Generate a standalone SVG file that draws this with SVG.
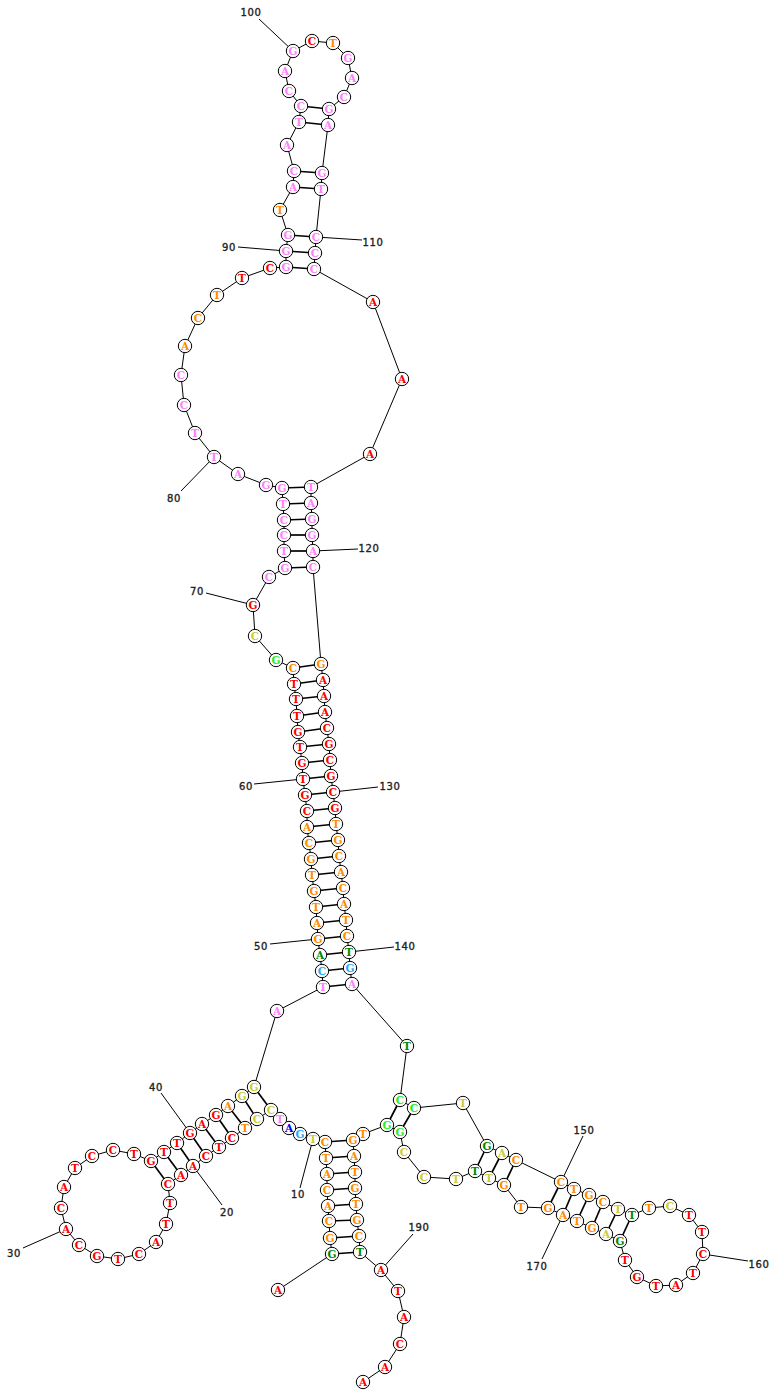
<svg xmlns="http://www.w3.org/2000/svg" width="770" height="1391" viewBox="0 0 770 1391">
<style>
rect.bg{fill:#fff}
#connectors line{stroke:#000;stroke-width:1}
#connectors line.bp{stroke-width:1.7}
circle{fill:#fff;stroke:#000;stroke-width:1;r:6.7px}
.n text{font-family:"DejaVu Serif",serif;font-weight:bold;font-size:10.5px;text-anchor:middle}
.lab{font-family:"DejaVu Sans",sans-serif;font-size:10px;letter-spacing:.7px;text-anchor:middle;fill:#222;stroke:#222;stroke-width:.35}
.r text{fill:#f00}.o text{fill:#ff8c00}.y text{fill:#cccc33}.l text{fill:#22ee22}.d text{fill:#008800}.s text{fill:#22aaff}.b text{fill:#0000ee}.p text{fill:#ff80ff}
</style>
<rect class="bg" width="770" height="1391"/>
<g id="connectors">
<line x1="278" y1="1290" x2="332" y2="1254"/><line x1="332" y1="1254" x2="330" y2="1238"/><line x1="330" y1="1238" x2="329" y2="1221"/><line x1="329" y1="1221" x2="328" y2="1206"/><line x1="328" y1="1206" x2="327" y2="1190"/><line x1="327" y1="1190" x2="327" y2="1174"/><line x1="327" y1="1174" x2="326" y2="1158"/><line x1="326" y1="1158" x2="325" y2="1142"/><line x1="325" y1="1142" x2="313" y2="1139"/><line x1="313" y1="1139" x2="300" y2="1134"/><line x1="300" y1="1134" x2="289" y2="1128"/><line x1="289" y1="1128" x2="280" y2="1119"/><line x1="280" y1="1119" x2="271" y2="1110"/><line x1="271" y1="1110" x2="257" y2="1119"/><line x1="257" y1="1119" x2="245" y2="1128"/><line x1="245" y1="1128" x2="232" y2="1138"/><line x1="232" y1="1138" x2="219" y2="1147"/><line x1="219" y1="1147" x2="206" y2="1156"/><line x1="206" y1="1156" x2="193" y2="1166"/><line x1="193" y1="1166" x2="181" y2="1175"/><line x1="181" y1="1175" x2="168" y2="1184"/><line x1="168" y1="1184" x2="170" y2="1203"/><line x1="170" y1="1203" x2="166" y2="1224"/><line x1="166" y1="1224" x2="156" y2="1242"/><line x1="156" y1="1242" x2="139" y2="1254"/><line x1="139" y1="1254" x2="118" y2="1259"/><line x1="118" y1="1259" x2="97" y2="1256"/><line x1="97" y1="1256" x2="79" y2="1245"/><line x1="79" y1="1245" x2="66" y2="1229"/><line x1="66" y1="1229" x2="61" y2="1208"/><line x1="61" y1="1208" x2="64" y2="1187"/><line x1="64" y1="1187" x2="75" y2="1168"/><line x1="75" y1="1168" x2="92" y2="1156"/><line x1="92" y1="1156" x2="113" y2="1150"/><line x1="113" y1="1150" x2="134" y2="1154"/><line x1="134" y1="1154" x2="151" y2="1161"/><line x1="151" y1="1161" x2="164" y2="1152"/><line x1="164" y1="1152" x2="177" y2="1143"/><line x1="177" y1="1143" x2="190" y2="1133"/><line x1="190" y1="1133" x2="202" y2="1124"/><line x1="202" y1="1124" x2="216" y2="1115"/><line x1="216" y1="1115" x2="228" y2="1106"/><line x1="228" y1="1106" x2="242" y2="1096"/><line x1="242" y1="1096" x2="254" y2="1087"/><line x1="254" y1="1087" x2="277" y2="1011"/><line x1="277" y1="1011" x2="323" y2="987"/><line x1="323" y1="987" x2="322" y2="971"/><line x1="322" y1="971" x2="320" y2="955"/><line x1="320" y1="955" x2="318" y2="939"/><line x1="318" y1="939" x2="317" y2="923"/><line x1="317" y1="923" x2="316" y2="907"/><line x1="316" y1="907" x2="314" y2="891"/><line x1="314" y1="891" x2="312" y2="875"/><line x1="312" y1="875" x2="311" y2="859"/><line x1="311" y1="859" x2="309" y2="843"/><line x1="309" y1="843" x2="307" y2="827"/><line x1="307" y1="827" x2="307" y2="811"/><line x1="307" y1="811" x2="305" y2="795"/><line x1="305" y1="795" x2="303" y2="779"/><line x1="303" y1="779" x2="302" y2="763"/><line x1="302" y1="763" x2="300" y2="747"/><line x1="300" y1="747" x2="298" y2="732"/><line x1="298" y1="732" x2="297" y2="716"/><line x1="297" y1="716" x2="296" y2="699"/><line x1="296" y1="699" x2="294" y2="684"/><line x1="294" y1="684" x2="293" y2="668"/><line x1="293" y1="668" x2="276" y2="660"/><line x1="276" y1="660" x2="255" y2="636"/><line x1="255" y1="636" x2="253" y2="605"/><line x1="253" y1="605" x2="269" y2="577"/><line x1="269" y1="577" x2="285" y2="568"/><line x1="285" y1="568" x2="284" y2="551"/><line x1="284" y1="551" x2="284" y2="535"/><line x1="284" y1="535" x2="284" y2="520"/><line x1="284" y1="520" x2="283" y2="504"/><line x1="283" y1="504" x2="282" y2="488"/><line x1="282" y1="488" x2="266" y2="485"/><line x1="266" y1="485" x2="238" y2="474"/><line x1="238" y1="474" x2="214" y2="457"/><line x1="214" y1="457" x2="195" y2="433"/><line x1="195" y1="433" x2="184" y2="405"/><line x1="184" y1="405" x2="181" y2="375"/><line x1="181" y1="375" x2="185" y2="346"/><line x1="185" y1="346" x2="198" y2="318"/><line x1="198" y1="318" x2="217" y2="295"/><line x1="217" y1="295" x2="242" y2="278"/><line x1="242" y1="278" x2="270" y2="268"/><line x1="270" y1="268" x2="286" y2="267"/><line x1="286" y1="267" x2="286" y2="251"/><line x1="286" y1="251" x2="288" y2="235"/><line x1="288" y1="235" x2="280" y2="210"/><line x1="280" y1="210" x2="293" y2="187"/><line x1="293" y1="187" x2="294" y2="171"/><line x1="294" y1="171" x2="287" y2="145"/><line x1="287" y1="145" x2="299" y2="122"/><line x1="299" y1="122" x2="301" y2="106"/><line x1="301" y1="106" x2="289" y2="91"/><line x1="289" y1="91" x2="285" y2="71"/><line x1="285" y1="71" x2="293" y2="51"/><line x1="293" y1="51" x2="312" y2="41"/><line x1="312" y1="41" x2="333" y2="43"/><line x1="333" y1="43" x2="348" y2="58"/><line x1="348" y1="58" x2="352" y2="78"/><line x1="352" y1="78" x2="344" y2="97"/><line x1="344" y1="97" x2="329" y2="109"/><line x1="329" y1="109" x2="328" y2="125"/><line x1="328" y1="125" x2="322" y2="173"/><line x1="322" y1="173" x2="321" y2="189"/><line x1="321" y1="189" x2="316" y2="237"/><line x1="316" y1="237" x2="315" y2="253"/><line x1="315" y1="253" x2="314" y2="269"/><line x1="314" y1="269" x2="373" y2="302"/><line x1="373" y1="302" x2="402" y2="379"/><line x1="402" y1="379" x2="370" y2="454"/><line x1="370" y1="454" x2="311" y2="487"/><line x1="311" y1="487" x2="311" y2="503"/><line x1="311" y1="503" x2="312" y2="519"/><line x1="312" y1="519" x2="312" y2="535"/><line x1="312" y1="535" x2="313" y2="551"/><line x1="313" y1="551" x2="313" y2="567"/><line x1="313" y1="567" x2="321" y2="664"/><line x1="321" y1="664" x2="323" y2="680"/><line x1="323" y1="680" x2="324" y2="696"/><line x1="324" y1="696" x2="325" y2="712"/><line x1="325" y1="712" x2="327" y2="728"/><line x1="327" y1="728" x2="329" y2="744"/><line x1="329" y1="744" x2="330" y2="760"/><line x1="330" y1="760" x2="331" y2="776"/><line x1="331" y1="776" x2="333" y2="792"/><line x1="333" y1="792" x2="335" y2="808"/><line x1="335" y1="808" x2="336" y2="824"/><line x1="336" y1="824" x2="338" y2="840"/><line x1="338" y1="840" x2="339" y2="856"/><line x1="339" y1="856" x2="341" y2="872"/><line x1="341" y1="872" x2="343" y2="888"/><line x1="343" y1="888" x2="344" y2="904"/><line x1="344" y1="904" x2="346" y2="920"/><line x1="346" y1="920" x2="347" y2="936"/><line x1="347" y1="936" x2="349" y2="952"/><line x1="349" y1="952" x2="350" y2="968"/><line x1="350" y1="968" x2="352" y2="984"/><line x1="352" y1="984" x2="407" y2="1046"/><line x1="407" y1="1046" x2="400" y2="1100"/><line x1="400" y1="1100" x2="414" y2="1108"/><line x1="414" y1="1108" x2="463" y2="1103"/><line x1="463" y1="1103" x2="487" y2="1146"/><line x1="487" y1="1146" x2="502" y2="1153"/><line x1="502" y1="1153" x2="516" y2="1160"/><line x1="516" y1="1160" x2="561" y2="1182"/><line x1="561" y1="1182" x2="574" y2="1189"/><line x1="574" y1="1189" x2="589" y2="1195"/><line x1="589" y1="1195" x2="603" y2="1202"/><line x1="603" y1="1202" x2="618" y2="1209"/><line x1="618" y1="1209" x2="632" y2="1215"/><line x1="632" y1="1215" x2="649" y2="1208"/><line x1="649" y1="1208" x2="670" y2="1206"/><line x1="670" y1="1206" x2="689" y2="1215"/><line x1="689" y1="1215" x2="702" y2="1232"/><line x1="702" y1="1232" x2="703" y2="1254"/><line x1="703" y1="1254" x2="693" y2="1273"/><line x1="693" y1="1273" x2="676" y2="1285"/><line x1="676" y1="1285" x2="656" y2="1286"/><line x1="656" y1="1286" x2="637" y2="1277"/><line x1="637" y1="1277" x2="625" y2="1260"/><line x1="625" y1="1260" x2="620" y2="1241"/><line x1="620" y1="1241" x2="606" y2="1234"/><line x1="606" y1="1234" x2="592" y2="1228"/><line x1="592" y1="1228" x2="577" y2="1221"/><line x1="577" y1="1221" x2="563" y2="1215"/><line x1="563" y1="1215" x2="548" y2="1208"/><line x1="548" y1="1208" x2="521" y2="1207"/><line x1="521" y1="1207" x2="504" y2="1185"/><line x1="504" y1="1185" x2="489" y2="1178"/><line x1="489" y1="1178" x2="475" y2="1171"/><line x1="475" y1="1171" x2="456" y2="1179"/><line x1="456" y1="1179" x2="424" y2="1177"/><line x1="424" y1="1177" x2="404" y2="1152"/><line x1="404" y1="1152" x2="400" y2="1132"/><line x1="400" y1="1132" x2="387" y2="1125"/><line x1="387" y1="1125" x2="363" y2="1134"/><line x1="363" y1="1134" x2="353" y2="1140"/><line x1="353" y1="1140" x2="354" y2="1156"/><line x1="354" y1="1156" x2="355" y2="1172"/><line x1="355" y1="1172" x2="355" y2="1188"/><line x1="355" y1="1188" x2="356" y2="1204"/><line x1="356" y1="1204" x2="357" y2="1220"/><line x1="357" y1="1220" x2="359" y2="1236"/><line x1="359" y1="1236" x2="360" y2="1252"/><line x1="360" y1="1252" x2="381" y2="1270"/><line x1="381" y1="1270" x2="398" y2="1291"/><line x1="398" y1="1291" x2="404" y2="1317"/><line x1="404" y1="1317" x2="400" y2="1344"/><line x1="400" y1="1344" x2="385" y2="1367"/><line x1="385" y1="1367" x2="363" y2="1382"/>
<line class="bp" x1="332" y1="1254" x2="360" y2="1252"/><line class="bp" x1="330" y1="1238" x2="359" y2="1236"/><line class="bp" x1="329" y1="1221" x2="357" y2="1220"/><line class="bp" x1="328" y1="1206" x2="356" y2="1204"/><line class="bp" x1="327" y1="1190" x2="355" y2="1188"/><line class="bp" x1="327" y1="1174" x2="355" y2="1172"/><line class="bp" x1="326" y1="1158" x2="354" y2="1156"/><line class="bp" x1="325" y1="1142" x2="353" y2="1140"/>
<line class="bp" x1="271" y1="1110" x2="254" y2="1087"/><line class="bp" x1="257" y1="1119" x2="242" y2="1096"/><line class="bp" x1="245" y1="1128" x2="228" y2="1106"/><line class="bp" x1="232" y1="1138" x2="216" y2="1115"/><line class="bp" x1="219" y1="1147" x2="202" y2="1124"/><line class="bp" x1="206" y1="1156" x2="190" y2="1133"/><line class="bp" x1="193" y1="1166" x2="177" y2="1143"/><line class="bp" x1="181" y1="1175" x2="164" y2="1152"/><line class="bp" x1="168" y1="1184" x2="151" y2="1161"/>
<line class="bp" x1="323" y1="987" x2="352" y2="984"/><line class="bp" x1="322" y1="971" x2="350" y2="968"/><line class="bp" x1="320" y1="955" x2="349" y2="952"/><line class="bp" x1="318" y1="939" x2="347" y2="936"/><line class="bp" x1="317" y1="923" x2="346" y2="920"/><line class="bp" x1="316" y1="907" x2="344" y2="904"/><line class="bp" x1="314" y1="891" x2="343" y2="888"/><line class="bp" x1="312" y1="875" x2="341" y2="872"/><line class="bp" x1="311" y1="859" x2="339" y2="856"/><line class="bp" x1="309" y1="843" x2="338" y2="840"/><line class="bp" x1="307" y1="827" x2="336" y2="824"/><line class="bp" x1="307" y1="811" x2="335" y2="808"/><line class="bp" x1="305" y1="795" x2="333" y2="792"/><line class="bp" x1="303" y1="779" x2="331" y2="776"/><line class="bp" x1="302" y1="763" x2="330" y2="760"/><line class="bp" x1="300" y1="747" x2="329" y2="744"/><line class="bp" x1="298" y1="732" x2="327" y2="728"/><line class="bp" x1="297" y1="716" x2="325" y2="712"/><line class="bp" x1="296" y1="699" x2="324" y2="696"/><line class="bp" x1="294" y1="684" x2="323" y2="680"/><line class="bp" x1="293" y1="668" x2="321" y2="664"/>
<line class="bp" x1="285" y1="568" x2="313" y2="567"/><line class="bp" x1="284" y1="551" x2="313" y2="551"/><line class="bp" x1="284" y1="535" x2="312" y2="535"/><line class="bp" x1="284" y1="520" x2="312" y2="519"/><line class="bp" x1="283" y1="504" x2="311" y2="503"/><line class="bp" x1="282" y1="488" x2="311" y2="487"/>
<line class="bp" x1="286" y1="267" x2="314" y2="269"/><line class="bp" x1="286" y1="251" x2="315" y2="253"/><line class="bp" x1="288" y1="235" x2="316" y2="237"/><line class="bp" x1="293" y1="187" x2="321" y2="189"/><line class="bp" x1="294" y1="171" x2="322" y2="173"/><line class="bp" x1="299" y1="122" x2="328" y2="125"/><line class="bp" x1="301" y1="106" x2="329" y2="109"/>
<line class="bp" x1="400" y1="1100" x2="387" y2="1125"/><line class="bp" x1="414" y1="1108" x2="400" y2="1132"/><line class="bp" x1="487" y1="1146" x2="475" y2="1171"/><line class="bp" x1="502" y1="1153" x2="489" y2="1178"/><line class="bp" x1="516" y1="1160" x2="504" y2="1185"/>
<line class="bp" x1="561" y1="1182" x2="548" y2="1208"/><line class="bp" x1="574" y1="1189" x2="563" y2="1215"/><line class="bp" x1="589" y1="1195" x2="577" y2="1221"/><line class="bp" x1="603" y1="1202" x2="592" y2="1228"/><line class="bp" x1="618" y1="1209" x2="606" y2="1234"/><line class="bp" x1="632" y1="1215" x2="620" y2="1241"/>
<line x1="313" y1="1139" x2="300" y2="1188"/><line x1="193" y1="1166" x2="222" y2="1205"/><line x1="66" y1="1229" x2="23" y2="1248"/><line x1="190" y1="1133" x2="161" y2="1093"/><line x1="318" y1="939" x2="270" y2="944"/><line x1="303" y1="779" x2="254" y2="784"/><line x1="253" y1="605" x2="206" y2="593"/><line x1="214" y1="457" x2="181" y2="491"/><line x1="286" y1="251" x2="238" y2="247"/><line x1="293" y1="51" x2="259" y2="19"/><line x1="316" y1="237" x2="362" y2="240"/><line x1="313" y1="551" x2="358" y2="549"/><line x1="333" y1="792" x2="378" y2="787"/><line x1="349" y1="952" x2="394" y2="947"/><line x1="561" y1="1182" x2="583" y2="1136"/><line x1="703" y1="1254" x2="748" y2="1261"/><line x1="563" y1="1215" x2="542" y2="1259"/><line x1="381" y1="1270" x2="413" y2="1234"/>
</g>
<g id="labels">
<text class="lab" x="298" y="1198">10</text><text class="lab" x="227" y="1216">20</text><text class="lab" x="14" y="1257">30</text><text class="lab" x="156" y="1091">40</text><text class="lab" x="261" y="950">50</text><text class="lab" x="246" y="790">60</text><text class="lab" x="197" y="595">70</text><text class="lab" x="174" y="502">80</text><text class="lab" x="229" y="251">90</text><text class="lab" x="251" y="16">100</text><text class="lab" x="373" y="246">110</text><text class="lab" x="369" y="552">120</text><text class="lab" x="390" y="790">130</text><text class="lab" x="405" y="950">140</text><text class="lab" x="584" y="1134">150</text><text class="lab" x="759" y="1268">160</text><text class="lab" x="537" y="1270">170</text><text class="lab" x="419" y="1231">190</text>
</g>
<g id="nodes">
<g id="n1" class="n r" transform="translate(278,1290)"><circle/><text y="3.5">A</text></g>
<g id="n2" class="n d" transform="translate(332,1254)"><circle/><text y="3.5">G</text></g>
<g id="n3" class="n o" transform="translate(330,1238)"><circle/><text y="3.5">G</text></g>
<g id="n4" class="n o" transform="translate(329,1221)"><circle/><text y="3.5">C</text></g>
<g id="n5" class="n o" transform="translate(328,1206)"><circle/><text y="3.5">A</text></g>
<g id="n6" class="n o" transform="translate(327,1190)"><circle/><text y="3.5">C</text></g>
<g id="n7" class="n o" transform="translate(327,1174)"><circle/><text y="3.5">A</text></g>
<g id="n8" class="n o" transform="translate(326,1158)"><circle/><text y="3.5">T</text></g>
<g id="n9" class="n o" transform="translate(325,1142)"><circle/><text y="3.5">C</text></g>
<g id="n10" class="n y" transform="translate(313,1139)"><circle/><text y="3.5">T</text></g>
<g id="n11" class="n s" transform="translate(300,1134)"><circle/><text y="3.5">G</text></g>
<g id="n12" class="n b" transform="translate(289,1128)"><circle/><text y="3.5">A</text></g>
<g id="n13" class="n p" transform="translate(280,1119)"><circle/><text y="3.5">T</text></g>
<g id="n14" class="n y" transform="translate(271,1110)"><circle/><text y="3.5">C</text></g>
<g id="n15" class="n y" transform="translate(257,1119)"><circle/><text y="3.5">C</text></g>
<g id="n16" class="n o" transform="translate(245,1128)"><circle/><text y="3.5">T</text></g>
<g id="n17" class="n r" transform="translate(232,1138)"><circle/><text y="3.5">C</text></g>
<g id="n18" class="n r" transform="translate(219,1147)"><circle/><text y="3.5">T</text></g>
<g id="n19" class="n r" transform="translate(206,1156)"><circle/><text y="3.5">C</text></g>
<g id="n20" class="n r" transform="translate(193,1166)"><circle/><text y="3.5">A</text></g>
<g id="n21" class="n r" transform="translate(181,1175)"><circle/><text y="3.5">A</text></g>
<g id="n22" class="n r" transform="translate(168,1184)"><circle/><text y="3.5">C</text></g>
<g id="n23" class="n r" transform="translate(170,1203)"><circle/><text y="3.5">T</text></g>
<g id="n24" class="n r" transform="translate(166,1224)"><circle/><text y="3.5">T</text></g>
<g id="n25" class="n r" transform="translate(156,1242)"><circle/><text y="3.5">A</text></g>
<g id="n26" class="n r" transform="translate(139,1254)"><circle/><text y="3.5">C</text></g>
<g id="n27" class="n r" transform="translate(118,1259)"><circle/><text y="3.5">T</text></g>
<g id="n28" class="n r" transform="translate(97,1256)"><circle/><text y="3.5">G</text></g>
<g id="n29" class="n r" transform="translate(79,1245)"><circle/><text y="3.5">C</text></g>
<g id="n30" class="n r" transform="translate(66,1229)"><circle/><text y="3.5">A</text></g>
<g id="n31" class="n r" transform="translate(61,1208)"><circle/><text y="3.5">C</text></g>
<g id="n32" class="n r" transform="translate(64,1187)"><circle/><text y="3.5">A</text></g>
<g id="n33" class="n r" transform="translate(75,1168)"><circle/><text y="3.5">T</text></g>
<g id="n34" class="n r" transform="translate(92,1156)"><circle/><text y="3.5">C</text></g>
<g id="n35" class="n r" transform="translate(113,1150)"><circle/><text y="3.5">C</text></g>
<g id="n36" class="n r" transform="translate(134,1154)"><circle/><text y="3.5">T</text></g>
<g id="n37" class="n r" transform="translate(151,1161)"><circle/><text y="3.5">G</text></g>
<g id="n38" class="n r" transform="translate(164,1152)"><circle/><text y="3.5">T</text></g>
<g id="n39" class="n r" transform="translate(177,1143)"><circle/><text y="3.5">T</text></g>
<g id="n40" class="n r" transform="translate(190,1133)"><circle/><text y="3.5">G</text></g>
<g id="n41" class="n r" transform="translate(202,1124)"><circle/><text y="3.5">A</text></g>
<g id="n42" class="n r" transform="translate(216,1115)"><circle/><text y="3.5">G</text></g>
<g id="n43" class="n o" transform="translate(228,1106)"><circle/><text y="3.5">A</text></g>
<g id="n44" class="n y" transform="translate(242,1096)"><circle/><text y="3.5">G</text></g>
<g id="n45" class="n y" transform="translate(254,1087)"><circle/><text y="3.5">G</text></g>
<g id="n46" class="n p" transform="translate(277,1011)"><circle/><text y="3.5">A</text></g>
<g id="n47" class="n p" transform="translate(323,987)"><circle/><text y="3.5">T</text></g>
<g id="n48" class="n s" transform="translate(322,971)"><circle/><text y="3.5">C</text></g>
<g id="n49" class="n d" transform="translate(320,955)"><circle/><text y="3.5">A</text></g>
<g id="n50" class="n o" transform="translate(318,939)"><circle/><text y="3.5">G</text></g>
<g id="n51" class="n o" transform="translate(317,923)"><circle/><text y="3.5">A</text></g>
<g id="n52" class="n o" transform="translate(316,907)"><circle/><text y="3.5">T</text></g>
<g id="n53" class="n o" transform="translate(314,891)"><circle/><text y="3.5">G</text></g>
<g id="n54" class="n o" transform="translate(312,875)"><circle/><text y="3.5">T</text></g>
<g id="n55" class="n o" transform="translate(311,859)"><circle/><text y="3.5">G</text></g>
<g id="n56" class="n o" transform="translate(309,843)"><circle/><text y="3.5">C</text></g>
<g id="n57" class="n o" transform="translate(307,827)"><circle/><text y="3.5">A</text></g>
<g id="n58" class="n r" transform="translate(307,811)"><circle/><text y="3.5">C</text></g>
<g id="n59" class="n r" transform="translate(305,795)"><circle/><text y="3.5">G</text></g>
<g id="n60" class="n r" transform="translate(303,779)"><circle/><text y="3.5">T</text></g>
<g id="n61" class="n r" transform="translate(302,763)"><circle/><text y="3.5">G</text></g>
<g id="n62" class="n r" transform="translate(300,747)"><circle/><text y="3.5">T</text></g>
<g id="n63" class="n r" transform="translate(298,732)"><circle/><text y="3.5">G</text></g>
<g id="n64" class="n r" transform="translate(297,716)"><circle/><text y="3.5">T</text></g>
<g id="n65" class="n r" transform="translate(296,699)"><circle/><text y="3.5">T</text></g>
<g id="n66" class="n r" transform="translate(294,684)"><circle/><text y="3.5">T</text></g>
<g id="n67" class="n o" transform="translate(293,668)"><circle/><text y="3.5">C</text></g>
<g id="n68" class="n l" transform="translate(276,660)"><circle/><text y="3.5">G</text></g>
<g id="n69" class="n y" transform="translate(255,636)"><circle/><text y="3.5">C</text></g>
<g id="n70" class="n r" transform="translate(253,605)"><circle/><text y="3.5">G</text></g>
<g id="n71" class="n p" transform="translate(269,577)"><circle/><text y="3.5">C</text></g>
<g id="n72" class="n p" transform="translate(285,568)"><circle/><text y="3.5">G</text></g>
<g id="n73" class="n p" transform="translate(284,551)"><circle/><text y="3.5">T</text></g>
<g id="n74" class="n p" transform="translate(284,535)"><circle/><text y="3.5">C</text></g>
<g id="n75" class="n p" transform="translate(284,520)"><circle/><text y="3.5">C</text></g>
<g id="n76" class="n p" transform="translate(283,504)"><circle/><text y="3.5">T</text></g>
<g id="n77" class="n p" transform="translate(282,488)"><circle/><text y="3.5">G</text></g>
<g id="n78" class="n p" transform="translate(266,485)"><circle/><text y="3.5">G</text></g>
<g id="n79" class="n p" transform="translate(238,474)"><circle/><text y="3.5">A</text></g>
<g id="n80" class="n p" transform="translate(214,457)"><circle/><text y="3.5">T</text></g>
<g id="n81" class="n p" transform="translate(195,433)"><circle/><text y="3.5">T</text></g>
<g id="n82" class="n p" transform="translate(184,405)"><circle/><text y="3.5">C</text></g>
<g id="n83" class="n p" transform="translate(181,375)"><circle/><text y="3.5">C</text></g>
<g id="n84" class="n o" transform="translate(185,346)"><circle/><text y="3.5">A</text></g>
<g id="n85" class="n o" transform="translate(198,318)"><circle/><text y="3.5">C</text></g>
<g id="n86" class="n o" transform="translate(217,295)"><circle/><text y="3.5">T</text></g>
<g id="n87" class="n r" transform="translate(242,278)"><circle/><text y="3.5">T</text></g>
<g id="n88" class="n r" transform="translate(270,268)"><circle/><text y="3.5">C</text></g>
<g id="n89" class="n p" transform="translate(286,267)"><circle/><text y="3.5">G</text></g>
<g id="n90" class="n p" transform="translate(286,251)"><circle/><text y="3.5">G</text></g>
<g id="n91" class="n p" transform="translate(288,235)"><circle/><text y="3.5">G</text></g>
<g id="n92" class="n o" transform="translate(280,210)"><circle/><text y="3.5">T</text></g>
<g id="n93" class="n p" transform="translate(293,187)"><circle/><text y="3.5">A</text></g>
<g id="n94" class="n p" transform="translate(294,171)"><circle/><text y="3.5">C</text></g>
<g id="n95" class="n p" transform="translate(287,145)"><circle/><text y="3.5">A</text></g>
<g id="n96" class="n p" transform="translate(299,122)"><circle/><text y="3.5">T</text></g>
<g id="n97" class="n p" transform="translate(301,106)"><circle/><text y="3.5">C</text></g>
<g id="n98" class="n p" transform="translate(289,91)"><circle/><text y="3.5">C</text></g>
<g id="n99" class="n p" transform="translate(285,71)"><circle/><text y="3.5">A</text></g>
<g id="n100" class="n p" transform="translate(293,51)"><circle/><text y="3.5">G</text></g>
<g id="n101" class="n r" transform="translate(312,41)"><circle/><text y="3.5">C</text></g>
<g id="n102" class="n o" transform="translate(333,43)"><circle/><text y="3.5">T</text></g>
<g id="n103" class="n p" transform="translate(348,58)"><circle/><text y="3.5">G</text></g>
<g id="n104" class="n p" transform="translate(352,78)"><circle/><text y="3.5">A</text></g>
<g id="n105" class="n p" transform="translate(344,97)"><circle/><text y="3.5">C</text></g>
<g id="n106" class="n p" transform="translate(329,109)"><circle/><text y="3.5">G</text></g>
<g id="n107" class="n p" transform="translate(328,125)"><circle/><text y="3.5">A</text></g>
<g id="n108" class="n p" transform="translate(322,173)"><circle/><text y="3.5">G</text></g>
<g id="n109" class="n p" transform="translate(321,189)"><circle/><text y="3.5">T</text></g>
<g id="n110" class="n p" transform="translate(316,237)"><circle/><text y="3.5">C</text></g>
<g id="n111" class="n p" transform="translate(315,253)"><circle/><text y="3.5">C</text></g>
<g id="n112" class="n p" transform="translate(314,269)"><circle/><text y="3.5">C</text></g>
<g id="n113" class="n r" transform="translate(373,302)"><circle/><text y="3.5">A</text></g>
<g id="n114" class="n r" transform="translate(402,379)"><circle/><text y="3.5">A</text></g>
<g id="n115" class="n r" transform="translate(370,454)"><circle/><text y="3.5">A</text></g>
<g id="n116" class="n p" transform="translate(311,487)"><circle/><text y="3.5">T</text></g>
<g id="n117" class="n p" transform="translate(311,503)"><circle/><text y="3.5">A</text></g>
<g id="n118" class="n p" transform="translate(312,519)"><circle/><text y="3.5">G</text></g>
<g id="n119" class="n p" transform="translate(312,535)"><circle/><text y="3.5">G</text></g>
<g id="n120" class="n p" transform="translate(313,551)"><circle/><text y="3.5">A</text></g>
<g id="n121" class="n p" transform="translate(313,567)"><circle/><text y="3.5">C</text></g>
<g id="n122" class="n o" transform="translate(321,664)"><circle/><text y="3.5">G</text></g>
<g id="n123" class="n r" transform="translate(323,680)"><circle/><text y="3.5">A</text></g>
<g id="n124" class="n r" transform="translate(324,696)"><circle/><text y="3.5">A</text></g>
<g id="n125" class="n r" transform="translate(325,712)"><circle/><text y="3.5">A</text></g>
<g id="n126" class="n r" transform="translate(327,728)"><circle/><text y="3.5">C</text></g>
<g id="n127" class="n r" transform="translate(329,744)"><circle/><text y="3.5">G</text></g>
<g id="n128" class="n r" transform="translate(330,760)"><circle/><text y="3.5">C</text></g>
<g id="n129" class="n r" transform="translate(331,776)"><circle/><text y="3.5">G</text></g>
<g id="n130" class="n r" transform="translate(333,792)"><circle/><text y="3.5">C</text></g>
<g id="n131" class="n r" transform="translate(335,808)"><circle/><text y="3.5">G</text></g>
<g id="n132" class="n o" transform="translate(336,824)"><circle/><text y="3.5">T</text></g>
<g id="n133" class="n o" transform="translate(338,840)"><circle/><text y="3.5">G</text></g>
<g id="n134" class="n o" transform="translate(339,856)"><circle/><text y="3.5">C</text></g>
<g id="n135" class="n o" transform="translate(341,872)"><circle/><text y="3.5">A</text></g>
<g id="n136" class="n o" transform="translate(343,888)"><circle/><text y="3.5">C</text></g>
<g id="n137" class="n o" transform="translate(344,904)"><circle/><text y="3.5">A</text></g>
<g id="n138" class="n o" transform="translate(346,920)"><circle/><text y="3.5">T</text></g>
<g id="n139" class="n o" transform="translate(347,936)"><circle/><text y="3.5">C</text></g>
<g id="n140" class="n d" transform="translate(349,952)"><circle/><text y="3.5">T</text></g>
<g id="n141" class="n s" transform="translate(350,968)"><circle/><text y="3.5">G</text></g>
<g id="n142" class="n p" transform="translate(352,984)"><circle/><text y="3.5">A</text></g>
<g id="n143" class="n d" transform="translate(407,1046)"><circle/><text y="3.5">T</text></g>
<g id="n144" class="n l" transform="translate(400,1100)"><circle/><text y="3.5">C</text></g>
<g id="n145" class="n l" transform="translate(414,1108)"><circle/><text y="3.5">C</text></g>
<g id="n146" class="n y" transform="translate(463,1103)"><circle/><text y="3.5">T</text></g>
<g id="n147" class="n d" transform="translate(487,1146)"><circle/><text y="3.5">G</text></g>
<g id="n148" class="n y" transform="translate(502,1153)"><circle/><text y="3.5">A</text></g>
<g id="n149" class="n o" transform="translate(516,1160)"><circle/><text y="3.5">C</text></g>
<g id="n150" class="n o" transform="translate(561,1182)"><circle/><text y="3.5">C</text></g>
<g id="n151" class="n o" transform="translate(574,1189)"><circle/><text y="3.5">T</text></g>
<g id="n152" class="n o" transform="translate(589,1195)"><circle/><text y="3.5">G</text></g>
<g id="n153" class="n o" transform="translate(603,1202)"><circle/><text y="3.5">C</text></g>
<g id="n154" class="n y" transform="translate(618,1209)"><circle/><text y="3.5">T</text></g>
<g id="n155" class="n d" transform="translate(632,1215)"><circle/><text y="3.5">T</text></g>
<g id="n156" class="n o" transform="translate(649,1208)"><circle/><text y="3.5">T</text></g>
<g id="n157" class="n y" transform="translate(670,1206)"><circle/><text y="3.5">C</text></g>
<g id="n158" class="n r" transform="translate(689,1215)"><circle/><text y="3.5">T</text></g>
<g id="n159" class="n r" transform="translate(702,1232)"><circle/><text y="3.5">T</text></g>
<g id="n160" class="n r" transform="translate(703,1254)"><circle/><text y="3.5">C</text></g>
<g id="n161" class="n r" transform="translate(693,1273)"><circle/><text y="3.5">T</text></g>
<g id="n162" class="n r" transform="translate(676,1285)"><circle/><text y="3.5">A</text></g>
<g id="n163" class="n r" transform="translate(656,1286)"><circle/><text y="3.5">T</text></g>
<g id="n164" class="n r" transform="translate(637,1277)"><circle/><text y="3.5">G</text></g>
<g id="n165" class="n r" transform="translate(625,1260)"><circle/><text y="3.5">T</text></g>
<g id="n166" class="n d" transform="translate(620,1241)"><circle/><text y="3.5">G</text></g>
<g id="n167" class="n y" transform="translate(606,1234)"><circle/><text y="3.5">A</text></g>
<g id="n168" class="n o" transform="translate(592,1228)"><circle/><text y="3.5">G</text></g>
<g id="n169" class="n o" transform="translate(577,1221)"><circle/><text y="3.5">T</text></g>
<g id="n170" class="n o" transform="translate(563,1215)"><circle/><text y="3.5">A</text></g>
<g id="n171" class="n o" transform="translate(548,1208)"><circle/><text y="3.5">G</text></g>
<g id="n172" class="n o" transform="translate(521,1207)"><circle/><text y="3.5">T</text></g>
<g id="n173" class="n o" transform="translate(504,1185)"><circle/><text y="3.5">G</text></g>
<g id="n174" class="n y" transform="translate(489,1178)"><circle/><text y="3.5">T</text></g>
<g id="n175" class="n d" transform="translate(475,1171)"><circle/><text y="3.5">T</text></g>
<g id="n176" class="n y" transform="translate(456,1179)"><circle/><text y="3.5">T</text></g>
<g id="n177" class="n y" transform="translate(424,1177)"><circle/><text y="3.5">C</text></g>
<g id="n178" class="n y" transform="translate(404,1152)"><circle/><text y="3.5">C</text></g>
<g id="n179" class="n l" transform="translate(400,1132)"><circle/><text y="3.5">G</text></g>
<g id="n180" class="n l" transform="translate(387,1125)"><circle/><text y="3.5">G</text></g>
<g id="n181" class="n o" transform="translate(363,1134)"><circle/><text y="3.5">T</text></g>
<g id="n182" class="n o" transform="translate(353,1140)"><circle/><text y="3.5">G</text></g>
<g id="n183" class="n o" transform="translate(354,1156)"><circle/><text y="3.5">A</text></g>
<g id="n184" class="n o" transform="translate(355,1172)"><circle/><text y="3.5">T</text></g>
<g id="n185" class="n o" transform="translate(355,1188)"><circle/><text y="3.5">G</text></g>
<g id="n186" class="n o" transform="translate(356,1204)"><circle/><text y="3.5">T</text></g>
<g id="n187" class="n o" transform="translate(357,1220)"><circle/><text y="3.5">G</text></g>
<g id="n188" class="n o" transform="translate(359,1236)"><circle/><text y="3.5">C</text></g>
<g id="n189" class="n d" transform="translate(360,1252)"><circle/><text y="3.5">T</text></g>
<g id="n190" class="n r" transform="translate(381,1270)"><circle/><text y="3.5">A</text></g>
<g id="n191" class="n r" transform="translate(398,1291)"><circle/><text y="3.5">T</text></g>
<g id="n192" class="n r" transform="translate(404,1317)"><circle/><text y="3.5">A</text></g>
<g id="n193" class="n r" transform="translate(400,1344)"><circle/><text y="3.5">C</text></g>
<g id="n194" class="n r" transform="translate(385,1367)"><circle/><text y="3.5">A</text></g>
<g id="n195" class="n r" transform="translate(363,1382)"><circle/><text y="3.5">A</text></g>
</g>
</svg>
